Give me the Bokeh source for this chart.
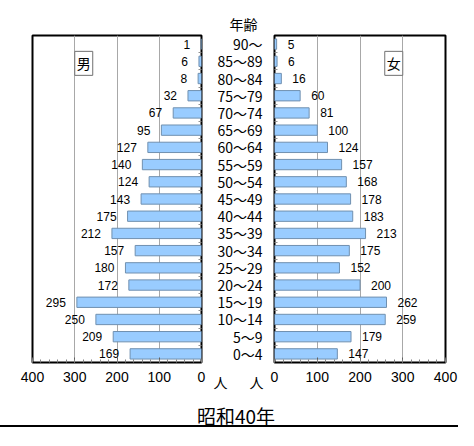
from bokeh.plotting import figure
from bokeh.layouts import row, column
from bokeh.models import Range1d, SingleIntervalTicker, FixedTicker, Label, Title, Div
from bokeh.core.properties import value
from bokeh.embed import file_html
from bokeh.resources import INLINE

# ---- data (youngest first) ----
ages = ["0～4", "5～9", "10～14", "15～19", "20～24", "25～29", "30～34",
        "35～39", "40～44", "45～49", "50～54", "55～59", "60～64", "65～69",
        "70～74", "75～79", "80～84", "85～89", "90～"]
male = [169, 209, 250, 295, 172, 180, 157, 212, 175, 143, 124, 140, 127, 95, 67, 32, 8, 6, 1]
female = [147, 179, 259, 262, 200, 152, 175, 213, 183, 178, 168, 157, 124, 100, 81, 60, 16, 6, 5]
xmax = 400
title_text = "昭和40年"
unit_text = "人"
age_header = "年齢"
male_label = "男"
female_label = "女"

CJK = "Noto Sans CJK JP"
NUM = "Liberation Sans"
BAR_FILL = "#99CCFF"
BAR_LINE = "#7090B0"
GRID = "#A8A8A8"

n = len(ages)
idx = list(range(n))
ROW_H = 394
TOP_B = 35
BOT_B = 29
pitch = (ROW_H - TOP_B - BOT_B) / n
y0, y1 = -0.5, n - 0.5
TICK_FS = "14px"
STANDOFF = 9


def style_xaxis(ax):
    ax.axis_line_color = None
    ax.major_label_text_color = "black"
    ax.major_label_standoff = STANDOFF
    ax.major_label_text_font_size = TICK_FS


def panel(values, reverse, width, bl, br, yside, label_text):
    xr = Range1d(xmax, 0) if reverse else Range1d(0, xmax)
    p = figure(width=width, height=ROW_H, x_range=xr, y_range=Range1d(y0, y1),
               output_backend="svg", toolbar_location=None, tools="", title=None,
               y_axis_location=yside,
               min_border_left=bl, min_border_right=br,
               min_border_top=TOP_B, min_border_bottom=BOT_B)
    p.outline_line_color = "black"
    p.outline_line_width = 2
    p.background_fill_color = "white"
    p.border_fill_color = "white"

    ax = p.xaxis[0]
    ax.ticker = SingleIntervalTicker(interval=100, num_minor_ticks=5)
    style_xaxis(ax)
    ax.major_tick_in = 5
    ax.major_tick_out = 0
    ax.minor_tick_in = 3
    ax.minor_tick_out = 0
    ax.major_tick_line_color = "#606060"
    ax.minor_tick_line_color = "#808080"
    ax.major_label_text_font = NUM

    yax = p.yaxis[0]
    yax.ticker = FixedTicker(ticks=[], minor_ticks=[i + 0.5 for i in range(n - 1)])
    yax.axis_line_color = None
    yax.major_tick_in = 0
    yax.major_tick_out = 0
    yax.minor_tick_in = 3
    yax.minor_tick_out = 0
    yax.minor_tick_line_color = "#909090"
    yax.major_label_standoff = 0

    p.xgrid.grid_line_color = GRID
    p.ygrid.visible = False

    p.hbar(y=idx, left=0, right=values, height=0.6,
           fill_color=BAR_FILL, line_color=BAR_LINE, line_width=1)
    p.text(x=values, y=idx, text=[str(v) for v in values],
           x_offset=-11 if reverse else 11,
           text_align="right" if reverse else "left",
           text_baseline="middle", text_font=value(NUM),
           text_font_size="12px", text_color="black")

    lab = Label(x=300, y=y1 - 16 / pitch, text=label_text,
                anchor="top_left" if reverse else "top_right",
                text_font=CJK, text_font_size="14px", text_color="black",
                border_line_color="#707070", border_line_width=1,
                background_fill_color="white", padding=2)
    p.add_layout(lab)
    return p


left = panel(male, True, 209, 32, 8, "right", male_label)
right = panel(female, False, 192, 8, 13, "left", female_label)

# middle column: age labels, header and units
MID_W = 57
mid = figure(width=MID_W, height=ROW_H, x_range=Range1d(0, MID_W),
             y_range=Range1d(y0, y1), y_axis_type=None, title=None,
             output_backend="svg", toolbar_location=None, tools="",
             min_border_left=0, min_border_right=0,
             min_border_top=TOP_B, min_border_bottom=BOT_B)
mid.outline_line_color = None
mid.xgrid.visible = False
mid.text(x=[53] * n, y=idx, text=ages, text_align="right", text_baseline="middle",
         text_font=value(CJK), text_font_size="14px", text_color="black")
unit_pos = [11, 47]
mxa = mid.xaxis[0]
mxa.ticker = FixedTicker(ticks=unit_pos)
mxa.major_label_overrides = {pos: unit_text for pos in unit_pos}
style_xaxis(mxa)
mxa.major_label_text_font = CJK
mxa.major_tick_in = 0
mxa.major_tick_out = 0
mxa.minor_tick_in = 0
mxa.minor_tick_out = 0
mid.add_layout(Title(text=age_header, align="left", offset=20, standoff=3,
                     text_font=CJK, text_font_size="14px", text_font_style="normal",
                     text_color="black"), "above")

W = 458
FOOT_H = 430 - ROW_H
footer_html = (
    f'<div style="width:{W}px;height:{FOOT_H - 3}px;box-sizing:border-box;'
    f'border-bottom:2px solid #000;padding:12px 0 0 14px;margin:0;'
    f'text-align:center;font-family:\'{CJK}\';font-size:19px;line-height:20px;'
    f'color:#000;white-space:nowrap;">{title_text}</div>'
)
footer = Div(text=footer_html, width=W, height=FOOT_H, margin=0)

layout = column(row(left, mid, right), footer)
open("out.html", "w").write(file_html(layout, INLINE))
